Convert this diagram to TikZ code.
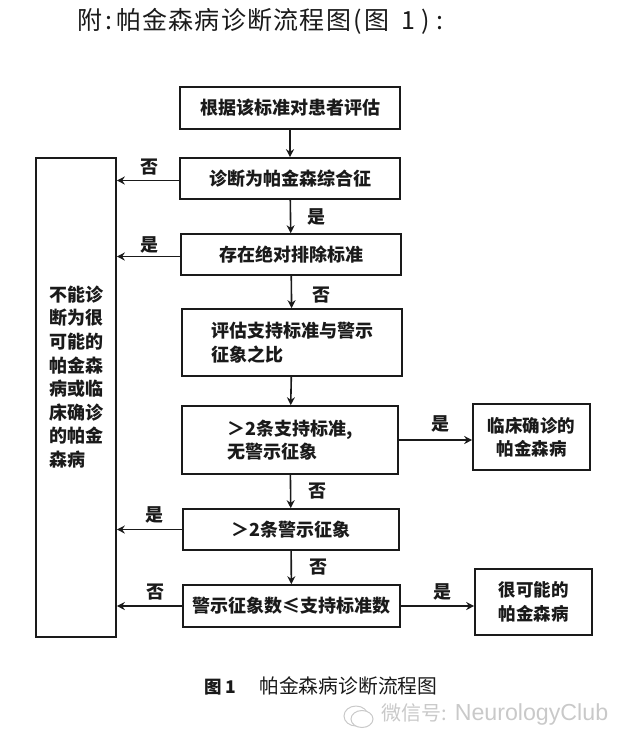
\documentclass[tikz,border=0pt]{standalone}
\usepackage{fontspec}
\usetikzlibrary{arrows.meta}
\newfontfamily\cjk{Noto Sans CJK SC}
\newfontfamily\cjktitle[LetterSpace=5]{Noto Sans CJK SC}
\newfontfamily\wmlatin{Liberation Sans}
\definecolor{ink}{HTML}{1A1A1A}
\definecolor{wm}{HTML}{C9C9C9}
\tikzset{
  flowbox/.style={draw=ink,line width=1.6pt,inner sep=0pt,text=ink,font=\cjk\bfseries\fontsize{18}{23.5}\selectfont,align=center},
  flowarrow/.style={draw=ink,line width=1.6pt,-{Stealth[length=8pt,width=8pt]}},
  flowlabel/.style={text=ink,inner sep=0pt,font=\cjk\bfseries\fontsize{18}{20}\selectfont}
}
\begin{document}
\begin{tikzpicture}[x=1pt,y=-1pt]
\useasboundingbox (0,0) rectangle (630,747);
\node[text=ink,inner sep=0pt,anchor=west,font=\cjktitle\fontsize{25}{28}\selectfont] (title) at (77,21) {附\hspace{3pt}:\hspace{4pt}帕金森病诊断流程图\hspace{2pt}(\hspace{3pt}图\hspace{12pt}1\hspace{6pt})\hspace{7pt}:};
\node[flowbox,minimum width=220pt,minimum height=42pt] (b1) at (290,108) {根据该标准对患者评估};
\node[flowbox,minimum width=220pt,minimum height=41pt] (b2) at (290,178.5) {诊断为帕金森综合征};
\node[flowbox,minimum width=220pt,minimum height=41pt] (b3) at (291,254.5) {存在绝对排除标准};
\node[flowbox,minimum width=220pt,minimum height=67pt,align=left] (b4) at (292,342.5) {评估支持标准与警示\\征象之比};
\node[flowbox,minimum width=216pt,minimum height=68pt,align=left] (b5) at (290,440) {＞2条支持标准,\\无警示征象};
\node[flowbox,minimum width=216pt,minimum height=41pt] (b6) at (291,529.5) {＞2条警示征象};
\node[flowbox,minimum width=217pt,minimum height=42pt] (b7) at (291.5,606) {警示征象数≤支持标准数};
\node[flowbox,minimum width=117pt,minimum height=66pt,font=\cjk\bfseries\fontsize{17.5}{23.5}\selectfont] (r1) at (531.5,437) {临床确诊的\\帕金森病};
\node[flowbox,minimum width=117pt,minimum height=66pt,font=\cjk\bfseries\fontsize{17.5}{23.5}\selectfont] (r2) at (533.5,602) {很可能的\\帕金森病};
\node[flowbox,minimum width=80pt,minimum height=479pt,align=left,font=\cjk\bfseries\fontsize{18}{23.6}\selectfont] (left) at (76,397.5) {不能诊\\断为很\\可能的\\帕金森\\病或临\\床确诊\\的帕金\\森病\\[19pt]\mbox{}};
\draw[flowarrow] (b1) -- (b2);
\draw[flowarrow] (b2) -- (b3);
\draw[flowarrow] (b3) -- (b4);
\draw[flowarrow] (b4) -- (b5);
\draw[flowarrow] (b5) -- (b6);
\draw[flowarrow] (b6) -- (b7);
\draw[flowarrow] (b5) -- (r1.west |- b5.east);
\draw[flowarrow] (b7) -- (r2.west |- b7.east);
\draw[flowarrow] ([yshift=-2pt]b2.west) -- ([yshift=-2pt]left.east |- b2.west);
\draw[flowarrow] ([yshift=-2pt]b3.west) -- ([yshift=-2pt]left.east |- b3.west);
\draw[flowarrow] (b6.west) -- (left.east |- b6.west);
\draw[flowarrow] (b7.west) -- (left.east |- b7.west);
\node[flowlabel] (l1) at (149,167) {否};
\node[flowlabel] (l2) at (316,217) {是};
\node[flowlabel] (l3) at (149,245) {是};
\node[flowlabel] (l4) at (321,295) {否};
\node[flowlabel] (l5) at (440,424) {是};
\node[flowlabel] (l6) at (317,491) {否};
\node[flowlabel] (l7) at (154,515) {是};
\node[flowlabel] (l8) at (318,567) {否};
\node[flowlabel] (l9) at (155,592) {否};
\node[flowlabel] (l10) at (442,592) {是};
\node[flowlabel,anchor=west,font=\cjk\bfseries\fontsize{17.5}{20}\selectfont] (cap1) at (204,687) {图 1};
\node[flowlabel,anchor=west,font=\cjk\fontsize{19.8}{22}\selectfont] (cap2) at (259,686) {帕金森病诊断流程图};
% watermark
\draw[wm,line width=1pt] (356,716) ellipse [x radius=12,y radius=10];
\draw[wm,line width=1pt,fill=white] (362,719) ellipse [x radius=11,y radius=8.5];
\node[inner sep=0pt,anchor=west,text=wm,font=\cjk\fontsize{20}{22}\selectfont] (wmtext) at (381,714) {微信号:\hspace{8pt}{\wmlatin\fontsize{23.2}{23}\selectfont NeurologyClub}};
\end{tikzpicture}
\end{document}
